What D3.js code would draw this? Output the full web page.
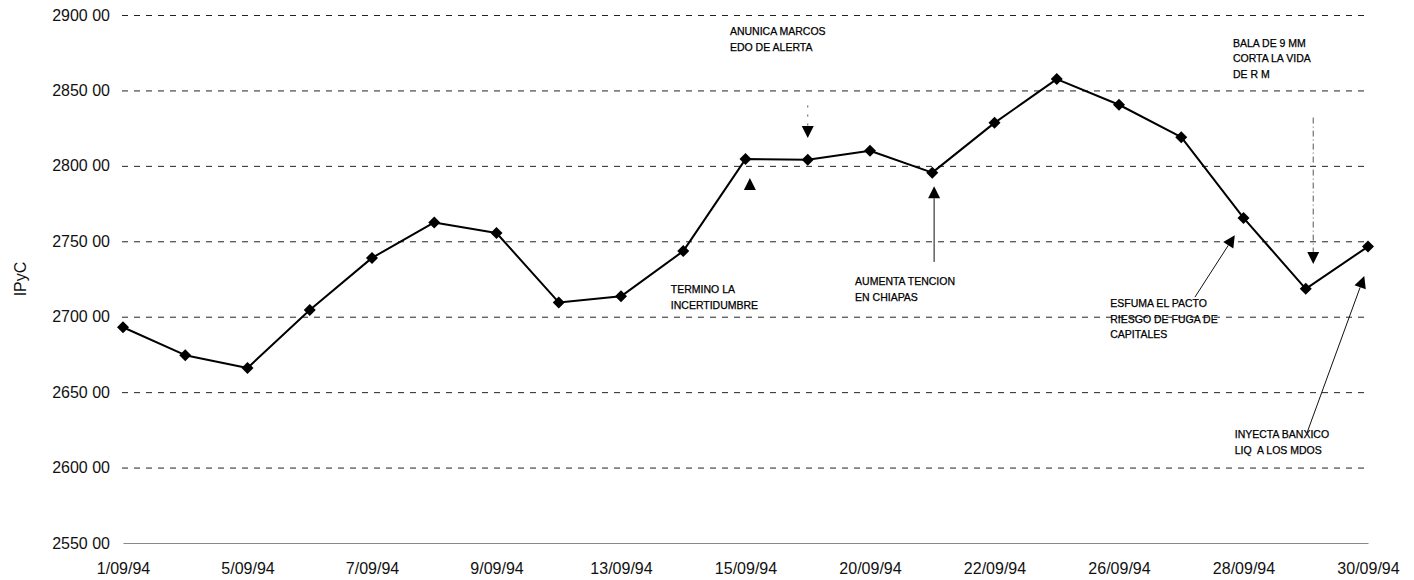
<!DOCTYPE html>
<html>
<head>
<meta charset="utf-8">
<script src="https://cdn.jsdelivr.net/npm/d3@7"></script>
<style>
  html, body { margin: 0; padding: 0; background: #fff; }
  svg { display: block; font-family: "Liberation Sans", Arial, sans-serif; }
</style>
</head>
<body>
<svg id="chart" width="1414" height="580"></svg>
<script>
// Trading days of September 1994 and the IPyC close for each day
const dates = ["1/09/94", "2/09/94", "5/09/94", "6/09/94", "7/09/94", "8/09/94", "9/09/94",
  "12/09/94", "13/09/94", "14/09/94", "15/09/94", "19/09/94", "20/09/94", "21/09/94",
  "22/09/94", "23/09/94", "26/09/94", "27/09/94", "28/09/94", "29/09/94", "30/09/94"];
const ipyc = [2693, 2674.5, 2666, 2704.5, 2739, 2762.5, 2755.5,
  2709.5, 2713.5, 2743.5, 2804.5, 2804, 2810, 2795.5,
  2828.5, 2857.5, 2840.5, 2819, 2765.5, 2718.5, 2746.5];

// Axis ticks
const xTickDates = ["1/09/94", "5/09/94", "7/09/94", "9/09/94", "13/09/94", "15/09/94",
  "20/09/94", "22/09/94", "26/09/94", "28/09/94", "30/09/94"];
const yTicks = [2550, 2600, 2650, 2700, 2750, 2800, 2850, 2900];
const yTickLabels = ["2550 00", "2600 00", "2650 00", "2700 00", "2750 00", "2800 00", "2850 00", "2900 00"];

// Event notes; positions given as (day index, index value)
const notes = [
  { lines: ["ANUNICA MARCOS", "EDO DE ALERTA"], text: [9.75, 2886.7],
    tail: [11, 2840], tip: [11, 2818.5], line: "dashed" },
  { lines: ["TERMINO LA", "INCERTIDUMBRE"], text: [8.8, 2715.5],
    tail: [10.07, 2784], tip: [10.07, 2792], line: "none" },
  { lines: ["AUMENTA TENCION", "EN CHIAPAS"], text: [11.76, 2721],
    tail: [13.03, 2736.3], tip: [13.03, 2786.5], line: "solid" },
  { lines: ["BALA DE 9 MM", "CORTA LA VIDA", "DE R M"], text: [17.83, 2879],
    tail: [19.12, 2832], tip: [19.12, 2735], line: "dashdot" },
  { lines: ["ESFUMA EL PACTO", "RIESGO DE FUGA DE", "CAPITALES"], text: [15.86, 2706.4],
    tail: [17.22, 2713], tip: [17.86, 2754], line: "solid" },
  { lines: ["INYECTA BANXICO", "LIQ  A LOS MDOS"], text: [17.86, 2619.6],
    tail: [19.02, 2623], tip: [19.94, 2727], line: "solid" }
];

const svg = d3.select("#chart");
const plotLeft = 123, plotRight = 1368, plotTop = 15, plotBottom = 543;

const x = d3.scalePoint().domain(dates).range([plotLeft, plotRight]);
const y = d3.scaleLinear().domain([2550, 2900]).range([plotBottom, plotTop]);
const xi = i => x(dates[0]) + i * x.step();

// Horizontal grid and value labels
const yAxis = svg.append("g")
  .attr("transform", `translate(${plotLeft - 1},0)`)
  .call(d3.axisLeft(y)
    .tickValues(yTicks)
    .tickFormat((d, i) => yTickLabels[i])
    .tickSize(-(plotRight - plotLeft + 1))
    .tickPadding(12));
yAxis.select(".domain").remove();
yAxis.selectAll(".tick line")
  .attr("stroke", "#222")
  .attr("stroke-width", 1)
  .attr("stroke-dasharray", "6,6")
  .filter(d => d === 2550).remove();
yAxis.selectAll(".tick text")
  .attr("font-size", 16)
  .attr("fill", "#111");

// Category axis
const xAxis = svg.append("g")
  .attr("transform", `translate(0,${plotBottom})`)
  .call(d3.axisBottom(x).tickValues(xTickDates).tickSize(0).tickSizeOuter(0).tickPadding(20));
xAxis.select(".domain").attr("stroke", "#888").attr("stroke-width", 1.2);
xAxis.selectAll(".tick text").attr("font-size", 16).attr("fill", "#111");

// Axis title
svg.append("text")
  .attr("transform", `translate(26,${(plotTop + plotBottom) / 2}) rotate(-90)`)
  .attr("text-anchor", "middle")
  .attr("font-size", 16)
  .attr("fill", "#111")
  .text("IPyC");

// Series line and diamond markers
svg.append("path")
  .datum(ipyc)
  .attr("fill", "none")
  .attr("stroke", "#000")
  .attr("stroke-width", 2)
  .attr("stroke-linejoin", "round")
  .attr("d", d3.line().x((d, i) => x(dates[i])).y(d => y(d)));

svg.append("g").selectAll("path")
  .data(ipyc)
  .join("path")
  .attr("transform", (d, i) => `translate(${x(dates[i])},${y(d)}) rotate(45)`)
  .attr("d", d3.symbol(d3.symbolSquare, 72))
  .attr("fill", "#000");

// Event notes: text block, leader line and filled arrowhead
const noteG = svg.append("g");
notes.forEach(n => {
  const t = noteG.append("text")
    .attr("x", xi(n.text[0]))
    .attr("y", y(n.text[1]))
    .attr("font-size", 10.5)
    .attr("fill", "#000")
    .attr("stroke", "#000")
    .attr("stroke-width", 0.25);
  n.lines.forEach((s, k) => {
    t.append("tspan").attr("x", xi(n.text[0])).attr("dy", k === 0 ? 0 : 15.5)
      .attr("xml:space", "preserve").text(s);
  });

  const x0 = xi(n.tail[0]), y0 = y(n.tail[1]);
  const x1 = xi(n.tip[0]), y1 = y(n.tip[1]);
  const ang = Math.atan2(y1 - y0, x1 - x0);
  const len = 12, half = 6;
  const bx = x1 - len * Math.cos(ang), by = y1 - len * Math.sin(ang);

  if (n.line !== "none") {
    const ln = noteG.append("line")
      .attr("x1", x0).attr("y1", y0).attr("x2", bx).attr("y2", by)
      .attr("stroke", "#111").attr("stroke-width", 1);
    if (n.line === "dashed") ln.attr("stroke-dasharray", "2,7").attr("stroke", "#555");
    if (n.line === "dashdot") ln.attr("stroke-dasharray", "6,3,1,3").attr("stroke", "#555");
  }
  const px = -Math.sin(ang), py = Math.cos(ang);
  noteG.append("path")
    .attr("d", `M${x1},${y1}L${bx + px * half},${by + py * half}L${bx - px * half},${by - py * half}Z`)
    .attr("fill", "#000");
});
</script>
</body>
</html>
